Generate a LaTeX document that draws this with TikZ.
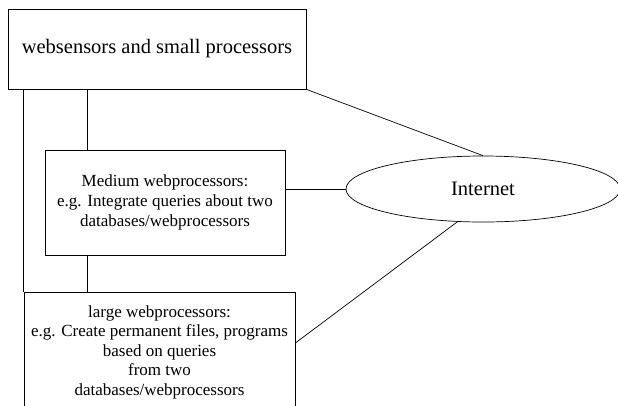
\documentclass[tikz,border=0pt]{standalone}
\usepackage{fontspec}
\setmainfont{Liberation Serif}
\usetikzlibrary{calc,positioning,shapes}

\begin{document}
\begin{tikzpicture}[x=1pt,y=-1pt,line width=.7pt,
  proc/.style={draw,rectangle,align=center,inner sep=0pt,font=\fontsize{17}{20}\selectfont},
  cloud/.style={draw,ellipse,inner sep=0pt,font=\fontsize{20.5}{24}\selectfont}]
  \useasboundingbox (0,0) rectangle (618,405);
  \clip (0,0) rectangle (618,405);

  \node[proc,minimum width=298,minimum height=80,font=\fontsize{20.5}{24}\selectfont] (small) at (157,49) {websensors and small processors};
  \node[proc,minimum width=240,minimum height=105] (medium) at (165,202.5) {Medium webprocessors:\\e.g. Integrate queries about two\\databases/webprocessors};
  \node[proc,minimum width=271,minimum height=120,font=\fontsize{17}{19.5}\selectfont] (large) at (159.5,352) {large webprocessors:\\e.g. Create permanent files, programs\\based on queries\\from two\\databases/webprocessors};
  \node[cloud,minimum width=274,minimum height=66] (inet) at (483,189) {Internet};

  \coordinate (stem) at (87,0);
  \draw (large.north west) -- (large.north west |- small.south);
  \draw (stem |- small.south) -- (stem |- medium.north);
  \draw (stem |- medium.south) -- (stem |- large.north);
  \draw (small.south east) -- (inet.north);
  \draw (medium.east |- inet.west) -- (inet.west);
  \draw ($(large.east)+(0,-9)$) -- (inet.232);
\end{tikzpicture}
\end{document}
